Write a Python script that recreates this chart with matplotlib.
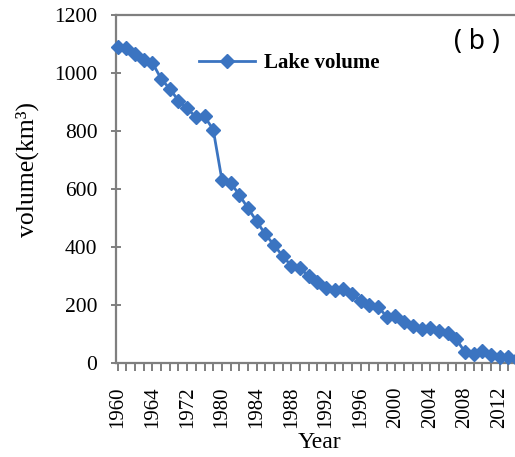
import matplotlib
matplotlib.use("Agg")
import matplotlib.pyplot as plt
from matplotlib.lines import Line2D

years = [1960, 1961, 1962, 1963, 1964, 1966, 1968, 1970, 1972, 1974, 1976, 1978,
         1980, 1981, 1982, 1983, 1984, 1985, 1986, 1987, 1988, 1989, 1990, 1991,
         1992, 1993, 1994, 1995, 1996, 1997, 1998, 1999, 2000, 2001, 2002, 2003,
         2004, 2005, 2006, 2007, 2008, 2009, 2010, 2011, 2012, 2013, 2014]
volume = [1090, 1085, 1065, 1045, 1035, 980, 945, 905, 878, 848, 850, 805,
          632, 622, 580, 534, 489, 444, 407, 369, 335, 328, 299, 280,
          257, 252, 256, 239, 213, 199, 193, 160, 162, 142, 128, 117,
          119, 112, 103, 82, 38, 31, 43, 29, 22, 22, 15]
tick_labels = ["1960", "1964", "1972", "1980", "1984", "1988", "1992", "1996",
               "2000", "2004", "2008", "2012"]
y_ticks = [0, 200, 400, 600, 800, 1000, 1200]

W, H = 515, 457
fig = plt.figure(figsize=(W / 100, H / 100), dpi=100)
serif = ["Liberation Serif", "DejaVu Serif"]

ax_l, ax_r, ax_t, ax_b = 116, 517, 15, 363
ax = fig.add_axes([ax_l / W, 1 - ax_b / H, (ax_r - ax_l) / W, (ax_b - ax_t) / H])

color = "#3b74c1"
idx = list(range(len(years)))
ax.plot(idx, volume, color=color, lw=2, marker="D", ms=7, mec=color, mfc=color,
        clip_on=False, zorder=3)

ax.set_ylim(0, 1200)
ax.set_xlim(-0.2, 46)
ax.set_yticks(y_ticks)
ax.set_yticklabels([str(v) for v in y_ticks], fontfamily=serif, fontsize=15.5)

label_pos = [years.index(int(t)) for t in tick_labels]
ax.set_xticks(label_pos)
ax.set_xticklabels(tick_labels, rotation=90, fontfamily=serif, fontsize=15)
ax.set_xticks(idx, minor=True)

for sp in ax.spines.values():
    sp.set_color("#7f7f7f")
    sp.set_linewidth(1.6)

ax.tick_params(axis="x", which="both", direction="out", length=6, width=1.4,
               color="#7f7f7f", pad=11)
ax.tick_params(axis="y", which="major", direction="inout", length=7, width=1.4,
               color="#7f7f7f", pad=10)

fig.text(319 / W, 1 - 443 / H, "Year", ha="center", va="center",
         fontfamily=serif, fontsize=17)
fig.text(27 / W, 1 - 170 / H, "volume(km³)", ha="center", va="center",
         rotation=90, fontfamily=serif, fontsize=18.5)

fig.text(477 / W, 1 - 42 / H, "( b )", ha="center", va="center",
         fontfamily=["Noto Sans", "DejaVu Sans"], fontsize=19)

handle = Line2D([], [], color=color, lw=2, marker="D", ms=7, mec=color, mfc=color)
fig.legend([handle], ["Lake volume"], loc="center left",
           bbox_to_anchor=(199 / W, 1 - 63 / H), frameon=False, borderpad=0,
           borderaxespad=0, handlelength=2.7, handletextpad=0.4,
           prop={"family": serif, "size": 15, "weight": "bold"})

fig.savefig("out.png", dpi=100)
